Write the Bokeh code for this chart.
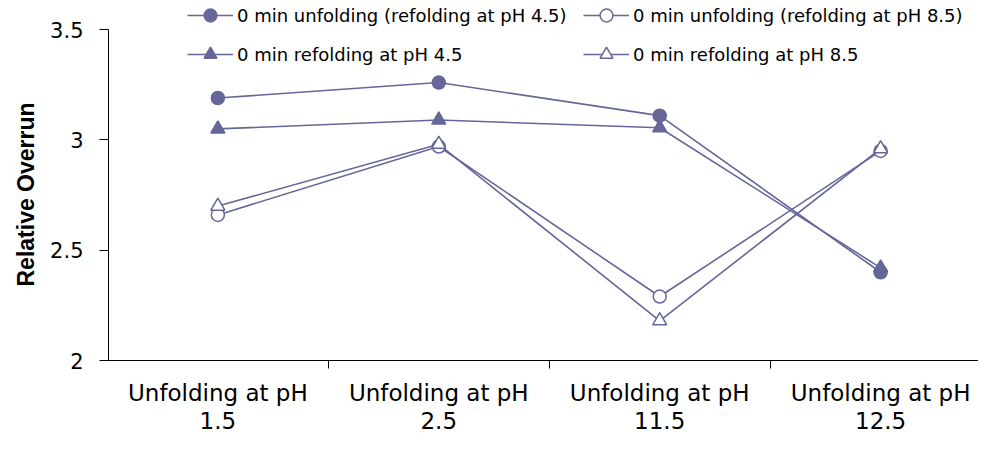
from bokeh.plotting import figure
from bokeh.models import FixedTicker, Legend, LegendItem, Range1d, Title
from bokeh.embed import file_html
from bokeh.resources import INLINE

categories = ["Unfolding at pH\n1.5", "Unfolding at pH\n2.5", "Unfolding at pH\n11.5", "Unfolding at pH\n12.5"]
unfold_ph45 = [3.19, 3.26, 3.11, 2.40]
unfold_ph85 = [2.66, 2.97, 2.29, 2.95]
refold_ph45 = [3.05, 3.09, 3.055, 2.42]
refold_ph85 = [2.70, 2.98, 2.18, 2.96]
series_names = [
    "0 min unfolding (refolding at pH 4.5)",
    "0 min unfolding (refolding at pH 8.5)",
    "0 min refolding at pH 4.5",
    "0 min refolding at pH 8.5",
]
y_ticks = [2, 2.5, 3, 3.5]
y_label = "Relative Overrun"

COLOR = "#666699"
FONT = "DejaVu Sans"

xs = list(range(1, len(categories) + 1))

p = figure(width=978, height=437, output_backend="svg", toolbar_location=None,
           x_range=Range1d(0.505, 4.443), y_range=Range1d(2, 3.632),
           min_border_left=108, min_border_top=0, min_border_right=0, min_border_bottom=75)
p.outline_line_color = None
p.xgrid.grid_line_color = None
p.ygrid.grid_line_color = None

renderers = []
specs = [
    (unfold_ph45, "circle", COLOR, 13),
    (unfold_ph85, "circle", "white", 13),
    (refold_ph45, "triangle", COLOR, 14),
    (refold_ph85, "triangle", "white", 14),
]
for vals, marker, fill, size in specs:
    ln = p.line(xs, vals, line_color=COLOR, line_width=1.6)
    sc = p.scatter(xs, vals, marker=marker, size=size, fill_color=fill,
                   line_color=COLOR, line_width=1.5)
    renderers.append([ln, sc])

for col, idxs in enumerate([(0, 2), (1, 3)]):
    items = [LegendItem(label=series_names[i], renderers=renderers[i]) for i in idxs]
    leg = Legend(items=items, location=(79 if col == 0 else 475, 290),
                 orientation="vertical", spacing=7, padding=0, margin=0,
                 glyph_width=46, glyph_height=32, label_height=20,
                 label_standoff=4, border_line_color=None,
                 background_fill_alpha=0,
                 label_text_font=FONT, label_text_font_size="18px",
                 label_text_color="black")
    p.add_layout(leg, "center")

# x axis
p.xaxis.ticker = FixedTicker(ticks=xs, minor_ticks=[0.5, 1.5, 2.5, 3.5])
p.xaxis.major_label_overrides = {x: c for x, c in zip(xs, categories)}
p.xaxis.major_tick_out = 0
p.xaxis.major_tick_in = 0
p.xaxis.minor_tick_out = 8
p.xaxis.minor_tick_in = 0
p.xaxis.minor_tick_line_color = "black"
p.xaxis.axis_line_color = "black"
p.xaxis.major_label_text_font = FONT
p.xaxis.major_label_text_font_size = "23px"
p.xaxis.major_label_text_line_height = 1.1
p.xaxis.major_label_text_color = "black"
p.xaxis.major_label_standoff = 11

# y axis
p.yaxis.ticker = FixedTicker(ticks=y_ticks)
p.yaxis.bounds = (2, 3.5)
p.yaxis.major_label_overrides = {2: "2", 2.5: "2.5", 3: "3", 3.5: "3.5"}
p.yaxis.minor_tick_line_color = None
p.yaxis.major_tick_out = 9
p.yaxis.major_tick_in = 0
p.yaxis.axis_line_color = "black"
p.yaxis.major_tick_line_color = "black"
p.yaxis.major_label_text_font = FONT
p.yaxis.major_label_text_font_size = "21px"
p.yaxis.major_label_text_color = "black"
p.yaxis.major_label_standoff = 16

ytitle = Title(text=y_label, align="left", offset=74, standoff=18,
               text_font="Liberation Sans", text_font_style="bold",
               text_font_size="23px", text_color="black")
p.add_layout(ytitle, "left")

open("out.html", "w").write(file_html(p, INLINE))
